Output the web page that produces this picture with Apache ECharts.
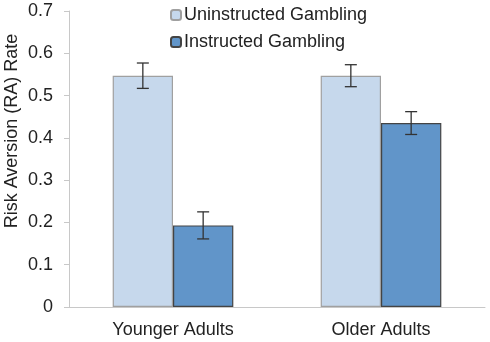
<!DOCTYPE html>
<html>
<head>
<meta charset="utf-8">
<script src="https://cdn.jsdelivr.net/npm/echarts@6/dist/echarts.min.js"></script>
<style>
  html, body { margin: 0; padding: 0; background: #fff; }
  #chart { width: 490px; height: 342px; }
</style>
</head>
<body>
<div id="chart"></div>
<script>
var categories = ['Younger Adults', 'Older Adults'];
var uninstructed = [0.547, 0.547];
var uninstructedErr = [0.030, 0.026];
var instructed = [0.193, 0.435];
var instructedErr = [0.032, 0.027];
var seriesNames = ['Uninstructed Gambling', 'Instructed Gambling'];

var barCategoryGap = 0.42;
var font = '"Liberation Sans", Arial, sans-serif';

// error bar renderer; side -1 = left bar in the group, +1 = right bar
function errorBars(side) {
  return function (params, api) {
    var idx = api.value(0);
    var hi = api.coord([idx, api.value(2)]);
    var lo = api.coord([idx, api.value(3)]);
    var catW = api.size([1, 0])[0];
    var barW = catW * (1 - barCategoryGap) / 2;
    var x = hi[0] + side * barW / 2;
    var cap = 6;
    var style = { stroke: '#333', lineWidth: 1.3 };
    return {
      type: 'group',
      children: [
        { type: 'line', shape: { x1: x, y1: hi[1], x2: x, y2: lo[1] }, style: style },
        { type: 'line', shape: { x1: x - cap, y1: hi[1], x2: x + cap, y2: hi[1] }, style: style },
        { type: 'line', shape: { x1: x - cap, y1: lo[1], x2: x + cap, y2: lo[1] }, style: style }
      ]
    };
  };
}

function errData(vals, errs) {
  return vals.map(function (v, i) { return [i, v, v + errs[i], v - errs[i]]; });
}

var chart = echarts.init(document.getElementById('chart'));
chart.setOption({
  animation: false,
  textStyle: { fontFamily: font },
  grid: { left: 69, right: 5, top: 11, bottom: 35, outerBoundsMode: 'none', containLabel: false },
  legend: {
    orient: 'vertical',
    left: 165,
    top: 1,
    itemWidth: 10,
    itemHeight: 10,
    itemGap: 9,
    textStyle: { fontSize: 18, color: '#222', fontFamily: font, padding: [0, 0, 0, -2] },
    data: seriesNames
  },
  xAxis: {
    type: 'category',
    data: categories,
    axisLine: { lineStyle: { color: '#c8c8c8' } },
    axisTick: { length: 5, lineStyle: { color: '#c8c8c8' } },
    axisLabel: { fontSize: 18, color: '#222', margin: 14 }
  },
  yAxis: {
    type: 'value',
    min: 0,
    max: 0.7,
    interval: 0.1,
    name: 'Risk Aversion (RA) Rate',
    nameLocation: 'middle',
    nameGap: 48,
    nameMoveOverlap: false,
    nameTextStyle: { fontSize: 18, color: '#222', padding: [0, 0, 0, 56] },
    axisLine: { show: true, lineStyle: { color: '#c8c8c8' } },
    axisTick: { show: true, length: 5, lineStyle: { color: '#c8c8c8' } },
    splitLine: { show: false },
    axisLabel: {
      fontSize: 18, color: '#222', margin: 16,
      formatter: function (v) { return String(Math.round(v * 10) / 10); }
    }
  },
  series: [
    {
      name: seriesNames[0],
      type: 'bar',
      data: uninstructed,
      barGap: '0%',
      barCategoryGap: (barCategoryGap * 100) + '%',
      itemStyle: { color: '#c6d8ec', borderColor: '#a0a0a0', borderWidth: 1.2 }
    },
    {
      name: seriesNames[1],
      type: 'bar',
      data: instructed,
      itemStyle: { color: '#6195c9', borderColor: '#444', borderWidth: 1.2 }
    },
    {
      type: 'custom',
      renderItem: errorBars(-1),
      data: errData(uninstructed, uninstructedErr),
      encode: { x: 0, y: [2, 3] },
      z: 10
    },
    {
      type: 'custom',
      renderItem: errorBars(1),
      data: errData(instructed, instructedErr),
      encode: { x: 0, y: [2, 3] },
      z: 10
    }
  ]
});
</script>
</body>
</html>
